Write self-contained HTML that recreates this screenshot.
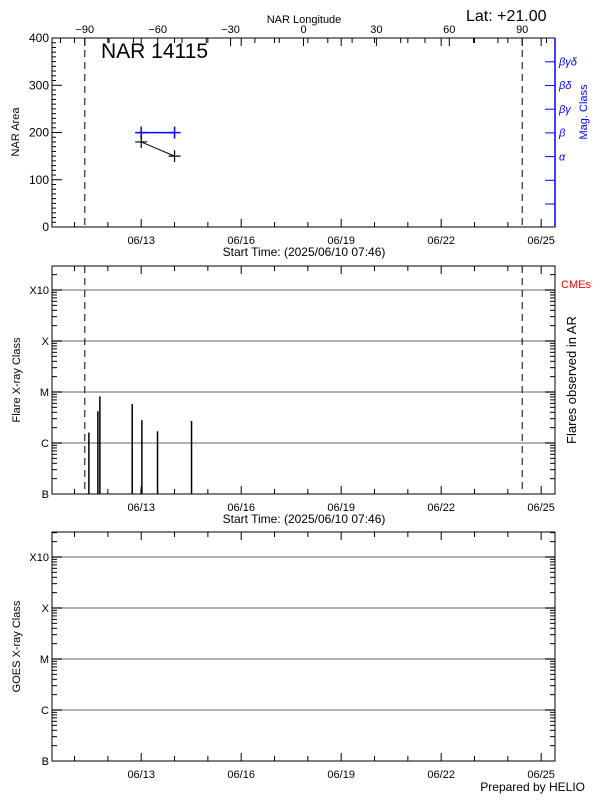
<!DOCTYPE html>
<html><head><meta charset="utf-8"><style>
html,body{margin:0;padding:0;background:#fff;}
svg{display:block;font-family:"Liberation Sans",sans-serif;}
</style></head><body>
<svg id="chart" width="600" height="800" viewBox="0 0 600 800" font-size="11" fill="#000"></svg>
<script>
// ---- data ----
const dateTicks = ["06/13","06/16","06/19","06/22","06/25"];
const dateTickDays = [3,6,9,12,15]; // days since 06/10 00:00
const lonTicks = [-90,-60,-30,0,30,60,90];
const areaTicks = [0,100,200,300,400];
const areaDays = [3,4];
const areaValues = [180,150];
const magDays = [3,4];
const magValues = [2,2];           // 1=alpha,2=beta,3=beta-gamma,4=beta-delta,5=beta-gamma-delta
const magLabels = ["α","β","βγ","βδ","βγδ"];
const classLabels = ["B","C","M","X","X10"];
const flareDays = [1.43,1.70,1.76,2.73,3.0,3.02,3.49,4.51];
const flareFlux = [1.6e-6,4.2e-6,8.2e-6,5.8e-6,1.25e-7,2.8e-6,1.7e-6,2.7e-6];
const limbLons = [-90,90];

const NS="http://www.w3.org/2000/svg";
const svg=document.getElementById('chart');
function el(tag,attrs,parent){const e=document.createElementNS(NS,tag);for(const k in attrs)e.setAttribute(k,attrs[k]);(parent||svg).appendChild(e);return e;}
function txt(s,x,y,attrs,parent){const t=el('text',Object.assign({x:x,y:y},attrs||{}),parent);t.textContent=s;return t;}

const L=52,R=555;
const start=0.3236;
const pxDay=33.33;
function xDay(d){return L+(d-start)*pxDay;}
function xLon(l){return 303.5+l*2.43;}

function dateAxis(g,top,bot,label){
  for(let d=1;d<=15;d++){const x=xDay(d);if(x<L||x>R)continue;
    const major=dateTickDays.includes(d);const len=major?8:5;
    el('line',{x1:x,y1:bot,x2:x,y2:bot-len,stroke:'#000'},g);
    el('line',{x1:x,y1:top,x2:x,y2:top+len,stroke:'#000'},g);}
  dateTicks.forEach((s,i)=>{const t=txt(s,xDay(dateTickDays[i]),bot+17,{'text-anchor':'middle'},g);
    
    });
  if(label){const t=txt(label,304,bot+29,{'text-anchor':'middle','font-size':'12'},g);
    
    }
}
function limbLines(g,top,bot){
  limbLons.forEach(l=>{const ln=el('line',{x1:xLon(l),y1:top,x2:xLon(l),y2:bot,stroke:'#000','stroke-dasharray':'7,5'},g);
    
    });
}
function logPanel(name,top,bot,ylab,ytitleName,xlabel){
  const g=el('g',{},svg);
  
  
  const B=bot,dec=51;
  const yF=f=>B-(Math.log10(f)+7)*dec;
  for(let i=1;i<=4;i++){const y=B-i*dec;
    const gl=el('line',{x1:L,y1:y,x2:R,y2:y,stroke:'#999','stroke-width':1.5},g);
    
    }
  for(let i=0;i<5;i++){for(let m=1;m<=9;m++){const y=B-(i+Math.log10(m))*dec;if(y<top)continue;
    const len=m==1?10:5;
    el('line',{x1:L,y1:y,x2:L+len,y2:y,stroke:'#000'},g);
    el('line',{x1:R,y1:y,x2:R-len,y2:y,stroke:'#000'},g);}}
  classLabels.forEach((s,i)=>{const t=txt(s,L-3,B-i*dec+4,{'text-anchor':'end'},g);
    
    });
  el('rect',{x:L,y:top,width:R-L,height:bot-top,fill:'none',stroke:'#000'},g);
  const yt=txt(ylab,0,0,{transform:`translate(20,${(top+bot)/2}) rotate(-90)`,'text-anchor':'middle','font-size':'11'},g);
  
  
  dateAxis(g,top,bot,xlabel);
  return {g,yF};
}

// ---- Panel 1 ----
const g1=el('g',{},svg);


const T1=38,B1=227;
const yA=v=>B1-v/400*(B1-T1);
for(let v=0;v<=400;v+=10){const y=yA(v);const len=v%100==0?10:4;el('line',{x1:L,y1:y,x2:L+len,y2:y,stroke:'#000'},g1);}
areaTicks.forEach(v=>{const t=txt(String(v),L-3,yA(v)+4,{'text-anchor':'end','font-size':'12'},g1);
  
  });
for(let l=-100;l<=100;l+=10){const x=xLon(l);if(x<L||x>R)continue;const len=l%30==0?8:5;el('line',{x1:x,y1:T1,x2:x,y2:T1+len,stroke:'#000'},g1);}
lonTicks.forEach(l=>{const t=txt(l<0?'−'+Math.abs(l):String(l),xLon(l),T1-5,{'text-anchor':'middle'},g1);
  
  });
{const t=txt('NAR Longitude',304,23,{'text-anchor':'middle'},g1);}
const magY=i=>180-i*23.7; // i=1 alpha ->156
[0,1,2,3,4,5,6].forEach(i=>{const y=204-i*23.7;el('line',{x1:R,y1:y,x2:R-10,y2:y,stroke:'#00f'},g1);});
magLabels.forEach((s,i)=>{const t=txt(s,R+4,magY(i+1)+4,{fill:'#00f','font-style':'italic','font-size':'11'},g1);
  
  });
{const t=txt('Mag. Class',0,0,{transform:'translate(587,112) rotate(-90)','text-anchor':'middle',fill:'#00f'},g1);}
el('rect',{x:L,y:T1,width:R-L,height:B1-T1,fill:'none',stroke:'#000'},g1);
el('line',{x1:R,y1:T1,x2:R,y2:B1,stroke:'#00f','stroke-width':1.5},g1);
limbLines(g1,T1,B1);
const magPts=magDays.map((d,i)=>[xDay(d),magY(magValues[i])]);
{const p=el('polyline',{points:magPts.map(p=>p.join(',')).join(' '),fill:'none',stroke:'#00f','stroke-width':1.5},g1);}
magPts.forEach(([x,y])=>{const m=el('path',{d:`M${x-6},${y}H${x+6}M${x},${y-6}V${y+6}`,stroke:'#00f','stroke-width':1.5},g1);});
const aPts=areaDays.map((d,i)=>[xDay(d),yA(areaValues[i])]);
{const p=el('polyline',{points:aPts.map(p=>p.join(',')).join(' '),fill:'none',stroke:'#000'},g1);}
aPts.forEach(([x,y])=>{const m=el('path',{d:`M${x-6},${y}H${x+6}M${x},${y-6}V${y+6}`,stroke:'#000','stroke-width':1.2},g1);});
{const t=txt('NAR 14115',101,58,{'font-size':'21'},g1);}
{const t=txt('Lat: +21.00',466,21,{'font-size':'16'},g1);}
{const t=txt('NAR Area',0,0,{transform:`translate(19,132) rotate(-90)`,'text-anchor':'middle'},g1);}
dateAxis(g1,T1,B1,'Start Time: (2025/06/10 07:46)');

// ---- Panel 2 ----
const p2=logPanel('flare-panel',266,494,'Flare X-ray Class','flare-axis-title','Start Time: (2025/06/10 07:46)');
limbLines(p2.g,266,494);
flareDays.forEach((d,i)=>{const b=el('line',{x1:xDay(d),y1:494,x2:xDay(d),y2:p2.yF(flareFlux[i]),stroke:'#000','stroke-width':1.5},p2.g);
  
  });
{const t=txt('CMEs',561,288,{fill:'#f00','font-size':'11'},p2.g);}
{const t=txt('Flares observed in AR',0,0,{transform:'translate(576,380) rotate(-90)','text-anchor':'middle','font-size':'13'},p2.g);}

// ---- Panel 3 ----
const p3=logPanel('goes-panel',532,761,'GOES X-ray Class','goes-axis-title',null);
{const t=txt('Prepared by HELIO',585,791,{'text-anchor':'end','font-size':'12'},p3.g);}
</script>
</body></html>
